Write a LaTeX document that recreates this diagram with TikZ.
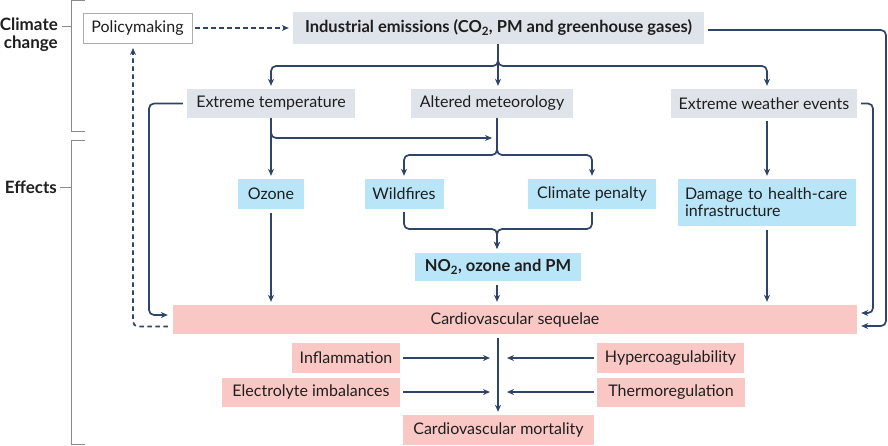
\documentclass[tikz,border=0pt]{standalone}
\usepackage{fontspec}
\setmainfont{Lato}
\usetikzlibrary{arrows.meta,calc}
\definecolor{lnc}{HTML}{2E4468}
\definecolor{grayf}{HTML}{DFE4EB}
\definecolor{bluef}{HTML}{B9E5F8}
\definecolor{pinkf}{HTML}{F9C8C5}
\definecolor{txt}{HTML}{1E1E1E}
\definecolor{brk}{HTML}{8A8A8A}
\begin{document}
\begin{tikzpicture}[x=1pt,y=-1pt,
  every node/.style={font=\fontsize{16}{17}\selectfont, text=txt, inner sep=0pt},
  bx/.style={minimum width=#1, minimum height=29},
  gbox/.style={fill=grayf},
  bbox/.style={fill=bluef},
  pbox/.style={fill=pinkf},
  bfont/.style={font=\fontsize{16.5}{18}\selectfont\bfseries},
  conn/.style={draw=lnc, line width=1.7pt, rounded corners=5pt},
  arr/.style={conn, -{Stealth[length=7pt,width=6pt]}},
  darr/.style={arr, dashed, dash pattern=on 4.5pt off 3.5pt},
  brack/.style={draw=brk, line width=0.8pt}
]
\useasboundingbox (0,0) rectangle (888,445);

% brackets
\draw[brack] (85,0.5) -- (71,0.5) -- (71,131) -- (85,131);
\draw[brack] (62,26) -- (71,26);
\node[font=\fontsize{17}{18}\selectfont\bfseries, align=right, anchor=east] (cc) at (58,34.5) {Climate\\change};
\draw[brack] (85,140) -- (71,140) -- (71,444) -- (85,444);
\draw[brack] (60,187) -- (71,187);
\node[font=\fontsize{17}{18}\selectfont\bfseries, anchor=east] (ef) at (57,187) {Effects};

% boxes
\node[bx=109, minimum height=30, fill=white, draw=brk!70, line width=0.6pt] (pol) at (137.5,28) {Policymaking};
\node[bx=411, minimum height=32, gbox, bfont] (ind) at (498.5,28) {Industrial emissions (CO\textsubscript{2}, PM and greenhouse gases)};
\node[bx=168, gbox] (et) at (271,103.5) {Extreme temperature};
\node[bx=162, gbox] (am) at (492,103.5) {Altered meteorology};
\node[bx=186, gbox] (ew) at (764,103.5) {Extreme weather events};
\node[bx=66, minimum height=30, bbox] (oz) at (271,194) {Ozone};
\node[bx=79, minimum height=30, bbox] (wf) at (404,194) {Wildfires};
\node[bx=128, minimum height=30, bbox] (cp) at (592,194) {Climate penalty};
\node[bx=178, minimum height=47, bbox, align=left, text width=164, inner xsep=7pt] (dm) at (767,202.5) {Damage to health-care\\infrastructure};
\node[bx=166, minimum height=28, bbox, bfont] (no2) at (498,267) {NO\textsubscript{2}, ozone and PM};
\node[bx=684, pbox] (seq) at (515,319.5) {Cardiovascular sequelae};
\node[bx=108, minimum height=30, pbox] (inf) at (346,358) {Inflammation};
\node[bx=178, pbox] (el) at (311,392) {Electrolyte imbalances};
\node[bx=147, minimum height=30, pbox] (hy) at (670.5,358) {Hypercoagulability};
\node[bx=148, pbox] (th) at (671,392) {Thermoregulation};
\node[bx=191, minimum height=30, pbox] (mo) at (498.5,430) {Cardiovascular mortality};

% coordinates
\coordinate (j1) at (498,66);
\coordinate (j2) at (271,138);
\coordinate (j3) at (497,155);
\coordinate (j4) at (497,229);
\coordinate (mid) at (498,375);

% connectors
\draw[darr, shorten <=3pt, shorten >=4pt] (pol.east) -- (ind.west);
\draw[arr, shorten >=3pt] (ind.south -| j1) -- (j1) -| (et.north);
\draw[arr, shorten >=3pt] (ind.south -| j1) -- (j1) -| ($(ew.north)+(3,0)$);
\draw[arr, shorten >=3pt] (ind.south -| j1) -- (am.north -| j1);
\draw[arr, shorten <=4pt, shorten >=4pt] ($(ind.east)+(0,2)$) -| (886,326) -- ($(seq.east)+(0,6.5)$);
\draw[arr, shorten <=4pt, shorten >=4pt] (ew.east) -| (873,313) -- ($(seq.east)+(0,-6.5)$);
\draw[arr, shorten <=4pt, shorten >=5pt] (et.west) -| (149,315) -- ($(seq.west)+(0,-4.5)$);
\draw[darr, shorten <=5pt, shorten >=5pt] ($(seq.west)+(0,7)$) -| (133,43);
\draw[arr, shorten >=3pt] (et.south) -- (oz.north);
\draw[arr, shorten >=5pt] (et.south) |- (j3 |- j2);
\draw[arr, shorten >=3pt] (am.south -| j3) -- (j3) -| (wf.north);
\draw[arr, shorten >=3pt] (am.south -| j3) -- (j3) -| (cp.north);
\draw[arr, shorten <=3pt, shorten >=4pt] (wf.south) |- (j4) -- (no2.north -| j4);
\draw[arr, shorten <=3pt, shorten >=4pt] (cp.south) |- (j4) -- (no2.north -| j4);
\draw[arr, shorten <=4pt, shorten >=3pt] (oz.south) -- (oz.south |- seq.north);
\draw[arr, shorten <=4pt, shorten >=3pt] (no2.south -| j4) -- (seq.north -| j4);
\draw[arr, shorten <=3pt, shorten >=3pt] (ew.south -| dm.north) -- (dm.north);
\draw[arr, shorten <=4pt, shorten >=3pt] (dm.south) -- (dm.south |- seq.north);
\draw[arr, shorten <=4pt, shorten >=3pt] (seq.south -| mid) -- (mo.north -| mid);
\draw[arr, shorten <=3pt, shorten >=8pt] (inf.east) -- (inf.east -| mid);
\draw[arr, shorten <=3pt, shorten >=8pt] (el.east) -- (el.east -| mid);
\draw[arr, shorten <=3pt, shorten >=9pt] (hy.west) -- (hy.west -| mid);
\draw[arr, shorten <=3pt, shorten >=9pt] (th.west) -- (th.west -| mid);
\end{tikzpicture}
\end{document}
